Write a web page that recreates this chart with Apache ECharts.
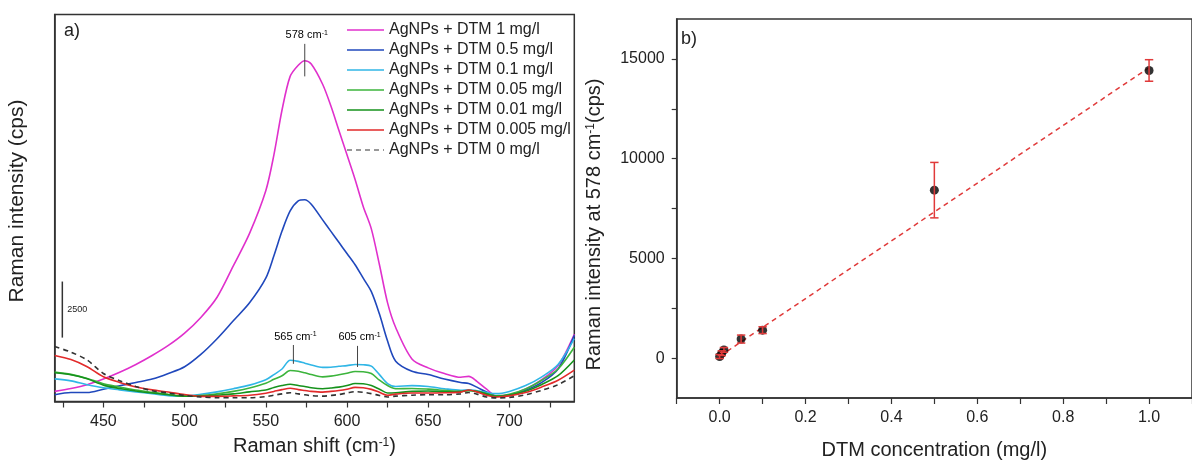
<!DOCTYPE html>
<html>
<head>
<meta charset="utf-8">
<script src="https://cdn.jsdelivr.net/npm/echarts@6/dist/echarts.min.js"></script>
<style>html,body{margin:0;padding:0;background:#fff}#c{width:1192px;height:465px}</style>
</head>
<body>
<div id="c"></div>
<script>
// ---- Panel a: Raman spectra ----
const shift = [420,430,440,450,460,470,480,490,500,510,520,530,540,550,555,560,565,570,574,578,585,590,595,600,605,610,615,620,625,630,640,650,660,670,675,680,686,692,700,710,720,730,740];
const dtm1    = [450,580,750,1000,1300,1650,2050,2500,3050,3750,4650,6050,7500,9400,11000,13000,14500,15000,15200,15050,14150,13200,12100,11000,9900,8700,7700,6100,4400,3300,1900,1500,1250,1080,1120,900,550,250,300,560,980,1600,3000];
const dtm05   = [300,400,400,550,700,850,1000,1250,1550,2100,2800,3600,4400,5500,6500,7600,8500,8950,9000,8800,8100,7600,7100,6600,6100,5500,4900,3900,2700,1800,1350,1200,1000,850,800,640,420,240,280,500,850,1450,2950];
const dtm01   = [1010,920,750,610,520,430,350,260,240,320,430,570,730,970,1200,1450,1840,1790,1710,1630,1520,1530,1570,1600,1650,1640,1580,1200,800,670,710,670,570,500,520,480,400,350,450,710,1100,1650,2800];
const dtm005  = [1310,1210,1030,790,650,510,410,320,240,260,340,450,600,810,990,1150,1380,1350,1280,1200,1100,1130,1190,1260,1340,1330,1250,950,710,570,580,550,500,450,490,450,360,250,320,560,950,1450,2420];
const dtm001  = [1280,1190,1010,730,580,470,380,300,240,250,280,340,430,510,620,710,770,710,670,610,570,600,640,710,800,790,710,550,380,390,450,470,430,440,490,440,330,230,290,460,760,1150,1850];
const dtm0005 = [2050,1870,1550,1100,850,650,520,420,310,230,230,250,280,370,450,530,590,530,490,450,420,450,490,550,630,610,540,410,280,330,380,380,390,420,510,430,280,200,250,400,650,950,1400];
const dtm0    = [2450,2200,1850,1250,930,670,480,380,270,200,170,165,165,220,280,340,390,340,300,260,240,270,310,380,440,410,350,270,200,240,280,300,300,340,400,330,200,160,180,300,500,750,1150];
const seriesNames = ['AgNPs + DTM 1 mg/l','AgNPs + DTM 0.5 mg/l','AgNPs + DTM 0.1 mg/l','AgNPs + DTM 0.05 mg/l','AgNPs + DTM 0.01 mg/l','AgNPs + DTM 0.005 mg/l','AgNPs + DTM 0 mg/l'];
const shiftTickLabels = [450,500,550,600,650,700];
const shiftTicks = [425,450,475,500,525,550,575,600,625,650,675,700,725];
// peak annotations
const peakLabels = ['578','565','605'];
const peakX = [574,567,606.5];
const peakTop = [15950,2520,2480];
const peakBottom = [14500,1680,1540];
// intensity scale bar
const scaleBarLabel = '2500';
const scaleBar = [424.7, 2850, 5350];

// ---- Panel b: calibration ----
const concX = [0,0.005,0.01,0.05,0.1,0.5,1.0];
const intensity = [80,245,410,955,1400,8420,14420];
const intensityErr = [100,120,120,200,170,1390,540];
const fitX = [0,1.0];
const fitY = [90,14560];
const concTickLabels = [0,0.2,0.4,0.6,0.8,1.0];
const concTicks = [-0.1,0,0.1,0.2,0.3,0.4,0.5,0.6,0.7,0.8,0.9,1.0,1.1];
const intTickLabels = [0,5000,10000,15000];
const intTicks = [0,2500,5000,7500,10000,12500,15000];

const FONT = 'Liberation Sans, Arial, sans-serif';
const TXT = '#222';
const colors = ['#e030cc','#2048bc','#30b6e6','#3cb43c','#16921c','#e22a2a','#333333'];
const specData = [dtm1,dtm05,dtm01,dtm005,dtm001,dtm0005,dtm0];

const supRich = (size) => ({
  n:{fontSize:size,fontFamily:FONT,color:TXT},
  s:{fontSize:Math.round(size*0.6),fontFamily:FONT,color:TXT,verticalAlign:'top'}
});

const chart = echarts.init(document.getElementById('c'), null, {renderer:'canvas'});

const specSeries = specData.map((arr,i)=>({
  name: seriesNames[i], type:'line', xAxisIndex:0, yAxisIndex:0,
  data: shift.map((x,j)=>[x,arr[j]]),
  symbol:'none', smooth:0.3,
  lineStyle:{color:colors[i], width:1.6, type: i===6 ? [5,4] : 'solid'},
  itemStyle:{color:colors[i]},
  z: 3
}));

const DASH_ICON = 'path://M0,0h5v1h-5z M9,0h5v1h-5z M18,0h5v1h-5z M27,0h5v1h-5z M36,0h1v1h-1z';
const legendData = seriesNames.map((n,i)=>({name:n, icon: i===6 ? DASH_ICON : 'rect'}));

const annoSeries = {
  type:'custom', xAxisIndex:0, yAxisIndex:0, silent:true, z:5,
  data: peakX.map((x,i)=>[x,peakTop[i],peakBottom[i]]),
  renderItem:(params, api)=>{
    const i = params.dataIndex;
    const p1 = api.coord([api.value(0), api.value(1)]);
    const p2 = api.coord([api.value(0), api.value(2)]);
    return {type:'group', children:[
      {type:'line', shape:{x1:p1[0],y1:p1[1],x2:p2[0],y2:p2[1]}, style:{stroke:'#444',lineWidth:1}},
      {type:'text', x:p1[0]+2, y:p1[1]-3, style:{text:'{n|'+peakLabels[i]+' cm}{s|-1}', rich:supRich(11), align:'center', verticalAlign:'bottom'}}
    ]};
  }
};

const scaleSeries = {
  type:'custom', xAxisIndex:0, yAxisIndex:0, silent:true, z:5,
  data: [scaleBar],
  renderItem:(params, api)=>{
    const p1 = api.coord([api.value(0), api.value(1)]);
    const p2 = api.coord([api.value(0), api.value(2)]);
    return {type:'group', children:[
      {type:'line', shape:{x1:p1[0],y1:p1[1],x2:p2[0],y2:p2[1]}, style:{stroke:'#333',lineWidth:1.5}},
      {type:'text', x:p1[0]+5, y:(p1[1]+p2[1])/2, style:{text:scaleBarLabel, fontSize:9, fontFamily:FONT, fill:TXT, align:'left', verticalAlign:'middle'}}
    ]};
  }
};

const ERR = '#e03a3a';
const errSeries = {
  type:'custom', xAxisIndex:1, yAxisIndex:1, silent:true, z:6,
  data: concX.map((x,i)=>[x,intensity[i],intensityErr[i]]),
  renderItem:(params, api)=>{
    const x = api.value(0), y = api.value(1), e = api.value(2);
    const t = api.coord([x, y+e]), b = api.coord([x, y-e]);
    const w = 4.2;
    const st = {stroke:ERR, lineWidth:1.5};
    return {type:'group', children:[
      {type:'line', shape:{x1:t[0],y1:t[1],x2:b[0],y2:b[1]}, style:st},
      {type:'line', shape:{x1:t[0]-w,y1:t[1],x2:t[0]+w,y2:t[1]}, style:st},
      {type:'line', shape:{x1:b[0]-w,y1:b[1],x2:b[0]+w,y2:b[1]}, style:st}
    ]};
  }
};

const axisLineStyle = {color:'#333', width:1.5};

chart.setOption({
  animation:false,
  backgroundColor:'#fff',
  textStyle:{fontFamily:FONT},
  grid:[
    {left:54.7, right:617.7, top:14.5, bottom:63.5, show:true, borderColor:'#333', borderWidth:1.5, backgroundColor:'#fff'},
    {left:676.7, right:-5, top:19, bottom:61, show:true, borderColor:'#333', borderWidth:1.5, backgroundColor:'#fff'}
  ],
  legend:{
    data: legendData, orient:'vertical', left:347, top:22, padding:0,
    itemWidth:37, itemHeight:1.6, itemGap:4, selectedMode:false,
    textStyle:{fontSize:16, color:TXT, fontFamily:FONT}
  },
  graphic:[
    {type:'text', left:64, top:22, style:{text:'a)', fontSize:18, fontFamily:FONT, fill:TXT}},
    {type:'text', left:681, top:30, style:{text:'b)', fontSize:18, fontFamily:FONT, fill:TXT}}
  ],
  xAxis:[
    {type:'value', gridIndex:0, min:420, max:740,
     name:'{n|Raman shift (cm}{s|-1}{n|)}', nameLocation:'middle', nameGap:35,
     nameTextStyle:{rich:supRich(20)},
     axisLine:{onZero:false, lineStyle:axisLineStyle},
     axisTick:{show:true, inside:false, length:6, customValues:shiftTicks, lineStyle:{color:'#333',width:1.2}},
     axisLabel:{customValues:shiftTickLabels, fontSize:16, color:TXT, margin:12, fontFamily:FONT},
     splitLine:{show:false}},
    {type:'value', gridIndex:1, min:-0.1, max:1.1,
     name:'DTM concentration (mg/l)', nameLocation:'middle', nameGap:42,
     nameTextStyle:{fontSize:20, color:TXT, fontFamily:FONT},
     axisLine:{onZero:false, lineStyle:axisLineStyle},
     axisTick:{show:true, inside:false, length:6, customValues:concTicks, lineStyle:{color:'#333',width:1.2}},
     axisLabel:{customValues:concTickLabels, fontSize:16, color:TXT, margin:12, fontFamily:FONT, formatter:(v)=>v.toFixed(1)},
     splitLine:{show:false}}
  ],
  yAxis:[
    {type:'value', gridIndex:0, min:0, max:17260,
     name:'Raman intensity (cps)', nameLocation:'middle', nameGap:27,
     nameTextStyle:{fontSize:21, color:TXT, fontFamily:FONT, padding:[0,0,0,14]},
     axisLine:{show:true, onZero:false, lineStyle:axisLineStyle},
     axisTick:{show:false}, axisLabel:{show:false}, splitLine:{show:false}},
    {type:'value', gridIndex:1, min:-2000, max:17000,
     name:'{n|Raman intensity at 578 cm}{s|-1}{n|(cps)}', nameLocation:'middle', nameGap:72,
     nameTextStyle:{rich:supRich(20), padding:[0,32,0,0]},
     axisLine:{show:true, onZero:false, lineStyle:axisLineStyle},
     axisTick:{show:true, inside:false, length:5, customValues:intTicks, lineStyle:{color:'#333',width:1.2}},
     axisLabel:{customValues:intTickLabels, fontSize:16, color:TXT, margin:12, fontFamily:FONT, formatter:(v)=>String(v)},
     splitLine:{show:false}}
  ],
  series:[
    ...specSeries,
    annoSeries,
    scaleSeries,
    {type:'line', xAxisIndex:1, yAxisIndex:1, data: fitX.map((x,i)=>[x,fitY[i]]), symbol:'none',
     lineStyle:{color:'#e03a3a', width:1.5, type:[5,4]}, z:2, silent:true},
    {type:'scatter', xAxisIndex:1, yAxisIndex:1, data: concX.map((x,i)=>[x,intensity[i]]),
     symbol:'circle', symbolSize:9, itemStyle:{color:'#000'}, z:4, silent:true},
    errSeries
  ]
});
</script>
</body>
</html>
